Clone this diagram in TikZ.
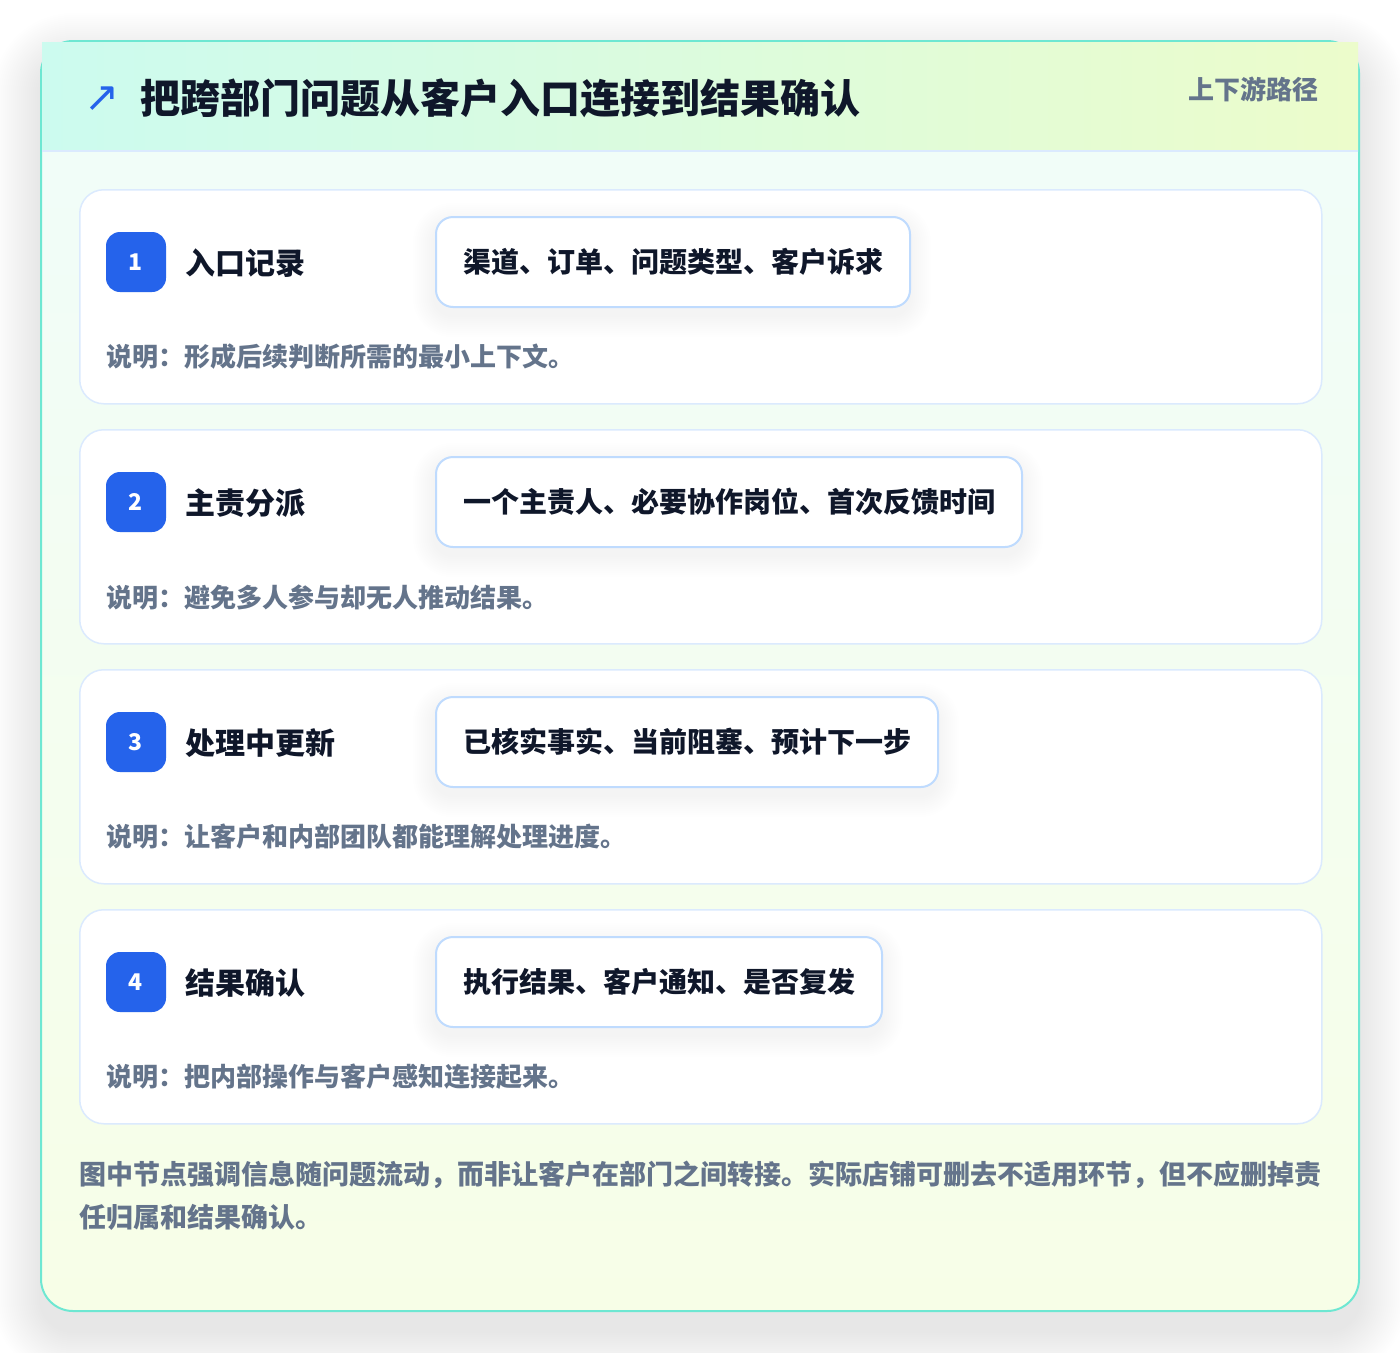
\documentclass[tikz,border=0pt]{standalone}
\usepackage{fontspec}
\newfontfamily\cjk{Noto Sans CJK SC}
\newfontfamily\cjkheavy{Noto Sans CJK SC Black}
\newfontfamily\dejavu{DejaVu Sans}
\definecolor{outerline}{HTML}{6EE7D2}
\definecolor{hdrL}{HTML}{CCFBEF}
\definecolor{hdrR}{HTML}{ECFCCB}
\definecolor{bodyTop}{HTML}{F0FDFA}
\definecolor{bodyBot}{HTML}{F7FEE7}
\definecolor{hdrline}{HTML}{DBEAFE}
\definecolor{cardline}{HTML}{DBEAFE}
\definecolor{tagline}{HTML}{BFDBFE}
\definecolor{badgeblue}{HTML}{2563EB}
\definecolor{ink}{HTML}{0F172A}
\definecolor{muted}{HTML}{64748B}
\tikzset{
  stepcard/.style={draw=cardline, line width=1.5pt, fill=white, rounded corners=24pt, inner sep=0pt},
  badge/.style={fill=badgeblue, rounded corners=14pt, minimum size=60pt, inner sep=0pt, text=white, font=\cjk\bfseries\fontsize{23}{23}\selectfont},
  steptitle/.style={anchor=west, inner sep=0pt, text=ink, font=\cjk\bfseries\fontsize{30}{36}\selectfont},
  tagbox/.style={anchor=west, draw=tagline, line width=2pt, fill=white, rounded corners=17pt, minimum height=90pt, inner xsep=27pt, inner ysep=0pt, text=ink, font=\cjk\bfseries\fontsize{28}{34}\selectfont},
  desc/.style={anchor=west, inner sep=0pt, text=muted, font=\cjk\bfseries\fontsize{26}{32}\selectfont},
  foot/.style={anchor=west, inner sep=0pt, text=muted, font=\cjk\bfseries\fontsize{27}{42}\selectfont},
}
\begin{document}
\begin{tikzpicture}[x=1pt,y=-1pt]
\useasboundingbox (0,0) rectangle (1400,1352);
\fill[white] (0,0) rectangle (1400,1352);
% outer card shadow (soft, layered)
\foreach \s in {2,4,...,48}{
  \fill[black, opacity=0.0042, rounded corners={32pt+\s pt}] ({41-\s},{41+20-\s}) rectangle ({1359+\s},{1311+20+\s});
}
% outer card
\shade[rounded corners=32pt, top color=bodyTop, bottom color=bodyBot] (41,41) rectangle (1359,1311);
\draw[outerline, line width=2pt, rounded corners=32pt] (41,41) rectangle (1359,1311);
\shade[left color=hdrL, right color=hdrR] (42,42) rectangle (1358,151);
\draw[hdrline, line width=1.5pt] (42,151) -- (1358,151);
% header
\node[inner sep=0pt, text=badgeblue, font=\dejavu\fontsize{42}{42}\selectfont] (icon) at (102,99) {↗};
\node[anchor=west, inner sep=0pt, text=ink, font=\cjkheavy\fontsize{40}{48}\selectfont] (title) at (140,98) {把跨部门问题从客户入口连接到结果确认};
\node[anchor=east, inner sep=0pt, text=muted, font=\cjk\bfseries\fontsize{26}{32}\selectfont] (route) at (1319,89) {上下游路径};
% steps
\foreach \i/\t/\w/\ti/\tg/\d in {
  1/189/474/入口记录/渠道、订单、问题类型、客户诉求/说明：形成后续判断所需的最小上下文。,
  2/429/586/主责分派/一个主责人、必要协作岗位、首次反馈时间/说明：避免多人参与却无人推动结果。,
  3/669/502/处理中更新/已核实事实、当前阻塞、预计下一步/说明：让客户和内部团队都能理解处理进度。,
  4/909/446/结果确认/执行结果、客户通知、是否复发/说明：把内部操作与客户感知连接起来。}{
  \node[stepcard, minimum width=1242pt, minimum height=214pt, anchor=north west] (card\i) at (79,\t) {};
  \foreach \s in {2,4,...,22}{
    \fill[black, opacity=0.004, rounded corners={17pt+\s pt}] ({435-\s},{\t+28+8-\s}) rectangle ({435+\w+\s},{\t+118+8+\s});
  }
  \node[badge] (badge\i) at (136,{\t+73}) {\i};
  \node[steptitle] (stitle\i) at (185,{\t+74}) {\ti};
  \node[tagbox] (tag\i) at (435,{\t+73}) {\tg};
  \node[desc] (desc\i) at (106,{\t+168}) {\d};
}
% footer
\node[foot] (foot1) at (79,1175) {图中节点强调信息随问题流动，而非让客户在部门之间转接。实际店铺可删去不适用环节，但不应删掉责};
\node[foot] (foot2) at (79,1217) {任归属和结果确认。};
\end{tikzpicture}
\end{document}
